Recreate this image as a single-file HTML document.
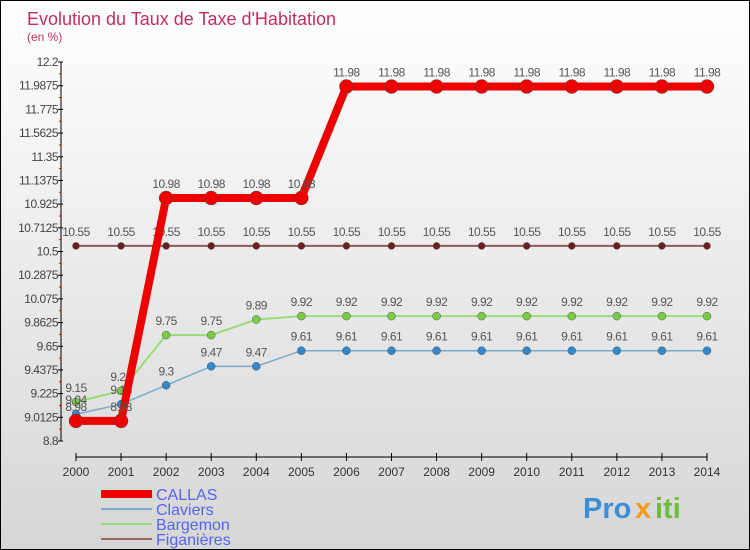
<!DOCTYPE html>
<html><head><meta charset="utf-8"><style>
body{margin:0}
#wrap{position:relative;width:748px;height:548px;border:1px solid #000;background:linear-gradient(#fff,#d6d6d6);font-family:"Liberation Sans",sans-serif;overflow:hidden}
</style></head><body>
<div id="wrap">
<svg id="chart" width="748" height="548">
<text x="26" y="24" font-size="18" fill="#c0305f">Evolution du Taux de Taxe d'Habitation</text>
<text x="26" y="40" font-size="12" fill="#c0305f">(en %)</text>
<g id="axes"></g><g id="series"></g><g id="legend"></g>
<g font-size="29" font-weight="bold">
<text x="582" y="517" fill="#3a8fd6">Pro</text><text x="634" y="517" fill="#f29a1c">x</text><text x="654" y="517" fill="#6cbf3b">iti</text></g>
</svg></div>
<script>
const years=[2000,2001,2002,2003,2004,2005,2006,2007,2008,2009,2010,2011,2012,2013,2014];
const yTicks=["8.8","9.0125","9.225","9.4375","9.65","9.8625","10.075","10.2875","10.5","10.7125","10.925","11.1375","11.35","11.5625","11.775","11.9875","12.2"];
const callas=[8.98,8.98,10.98,10.98,10.98,10.98,11.98,11.98,11.98,11.98,11.98,11.98,11.98,11.98,11.98];
const claviers=[9.04,9.13,9.3,9.47,9.47,9.61,9.61,9.61,9.61,9.61,9.61,9.61,9.61,9.61,9.61];
const bargemon=[9.15,9.25,9.75,9.75,9.89,9.92,9.92,9.92,9.92,9.92,9.92,9.92,9.92,9.92,9.92];
const figanieres=[10.55,10.55,10.55,10.55,10.55,10.55,10.55,10.55,10.55,10.55,10.55,10.55,10.55,10.55,10.55];
const NS="http://www.w3.org/2000/svg";
const yMin=8.8,yMax=12.2;
const X=i=>75+i*(631/14);
const Y=v=>440-(v-yMin)/(yMax-yMin)*379;
function mk(p,t,a){const e=document.createElementNS(NS,t);for(const k in a)e.setAttribute(k,a[k]);p.appendChild(e);return e;}
const ax=document.getElementById('axes');
mk(ax,'line',{x1:60,y1:61,x2:60,y2:440,stroke:'#000'});
mk(ax,'line',{x1:75,y1:456,x2:706,y2:456,stroke:'#000'});
yTicks.forEach((t,i)=>{const y=Y(+t);
 const l=mk(ax,'line',{x1:57,y1:y,x2:62,y2:y,stroke:'#000'});
 
 if(i<yTicks.length-1){mk(ax,'line',{x1:58,y1:(y+Y(+yTicks[i+1]))/2,x2:60,y2:(y+Y(+yTicks[i+1]))/2,stroke:'#e00'});}
 const tx=mk(ax,'text',{x:57,y:y+4,'text-anchor':'end','font-size':12,fill:'#444','letter-spacing':'-0.5'});tx.textContent=t;
 });
years.forEach((yr,i)=>{mk(ax,'line',{x1:X(i),y1:452,x2:X(i),y2:460,stroke:'#000'});
 const tx=mk(ax,'text',{x:X(i),y:475,'text-anchor':'middle','font-size':12,fill:'#333'});tx.textContent=yr;
 });
const sg=document.getElementById('series');
function series(vals,color,w,r,name,mc){
 const g=mk(sg,'g',{});
 mk(g,'polyline',{points:vals.map((v,i)=>X(i)+','+Y(v)).join(' '),fill:'none',stroke:color,'stroke-width':w});
 vals.forEach((v,i)=>{const c=mk(g,'circle',{cx:X(i),cy:Y(v),r:r,fill:mc,stroke:'#555','stroke-width':0.5});
  
  const t=mk(g,'text',{x:X(i),y:Y(v)-10,'text-anchor':'middle','font-size':12,fill:'#555','letter-spacing':'-0.5'});t.textContent=v;
  });
}
series(figanieres,'#8b5a5a',2,3.5,'figanieres','#6b1f1f');
series(bargemon,'#99dd77',2,4,'bargemon','#77cc44');
series(claviers,'#77aacc',1.5,4,'claviers','#3388cc');
series(callas,'#ee0000',8,7,'callas','#ee0000');
const lg=document.getElementById('legend');
[['CALLAS','#ee0000',8],['Claviers','#77aacc',2],['Bargemon','#99dd77',2],['Figanières','#996666',2]].forEach((d,i)=>{
 const y=493+i*15;const g=mk(lg,'g',{});
 mk(g,'line',{x1:100,y1:y,x2:151,y2:y,stroke:d[1],'stroke-width':d[2]});
 const t=mk(g,'text',{x:155,y:y+6,'font-size':16,fill:'#5566ee'});t.textContent=d[0];});
</script></body></html>
